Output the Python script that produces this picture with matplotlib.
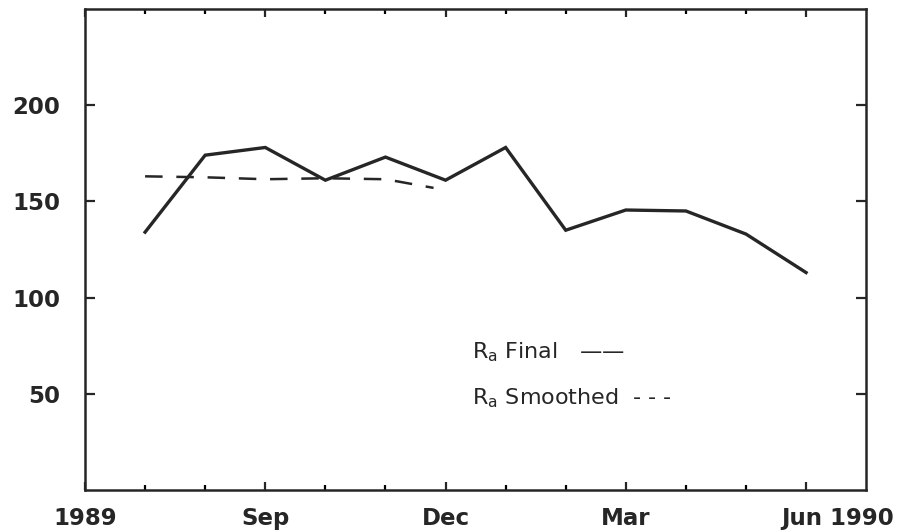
import matplotlib
matplotlib.use("Agg")
import matplotlib.pyplot as plt
from matplotlib.transforms import ScaledTranslation

plt.rcParams['font.family'] = ['DejaVu Sans']
plt.rcParams['mathtext.fontset'] = 'custom'
plt.rcParams['mathtext.rm'] = 'DejaVu Sans'

# months counted from Jun 1989 (0)
months_final = [1, 2, 3, 4, 5, 6, 7, 8, 9, 10, 11, 12]
ra_final = [134, 174, 178, 161, 173, 161, 178, 135, 145.5, 145, 133, 113]

months_smooth = [1, 2, 3, 4, 5, 5.8]
ra_smooth = [163, 162.5, 161.5, 162, 161.5, 157]

major_ticks = [0, 3, 6, 9, 12]
major_labels = ['1989', 'Sep', 'Dec', 'Mar', 'Jun 1990']
minor_ticks = [1, 2, 4, 5, 7, 8, 10, 11]
yticks = [50, 100, 150, 200]

ink = '#262626'

fig = plt.figure(figsize=(9.19, 5.31), dpi=100)
ax = fig.add_axes([0.0925, 0.0772, 0.85, 0.906])

ax.plot(months_final, ra_final, color=ink, lw=2.4, solid_joinstyle='miter')
ax.plot(months_smooth, ra_smooth, color=ink, lw=1.8, dashes=(7, 5.5))

ax.set_xlim(0, 13)
ax.set_ylim(0, 250)

ax.set_xticks(major_ticks)
ax.set_xticklabels(major_labels)
ax.set_xticks(minor_ticks, minor=True)
ax.set_yticks(yticks)
ax.set_yticklabels([str(v) for v in yticks])

ax.tick_params(axis='x', which='major', direction='in', length=6, width=1.6,
               top=True, bottom=True, pad=12, labelsize=16.5, colors=ink)
ax.tick_params(axis='x', which='minor', direction='in', length=3.5, width=1.6,
               top=True, bottom=True)
ax.tick_params(axis='y', direction='in', length=7, width=1.6, left=True,
               right=True, pad=18, labelsize=16.5, colors=ink)
for lbl in ax.get_xticklabels() + ax.get_yticklabels():
    lbl.set_fontweight('bold')

last = ax.get_xticklabels()[-1]
last.set_horizontalalignment('left')
last.set_transform(last.get_transform() + ScaledTranslation(-0.25, 0, fig.dpi_scale_trans))

for s in ax.spines.values():
    s.set_linewidth(1.8)
    s.set_color(ink)

ax.text(0.4955, 0.287, r'R$_\mathregular{a}$ Final   ——', transform=ax.transAxes,
        fontsize=16, color=ink, va='center', ha='left')
ax.text(0.4955, 0.191, r'R$_\mathregular{a}$ Smoothed  - - -', transform=ax.transAxes,
        fontsize=16, color=ink, va='center', ha='left')

fig.savefig('out.png', dpi=100)
